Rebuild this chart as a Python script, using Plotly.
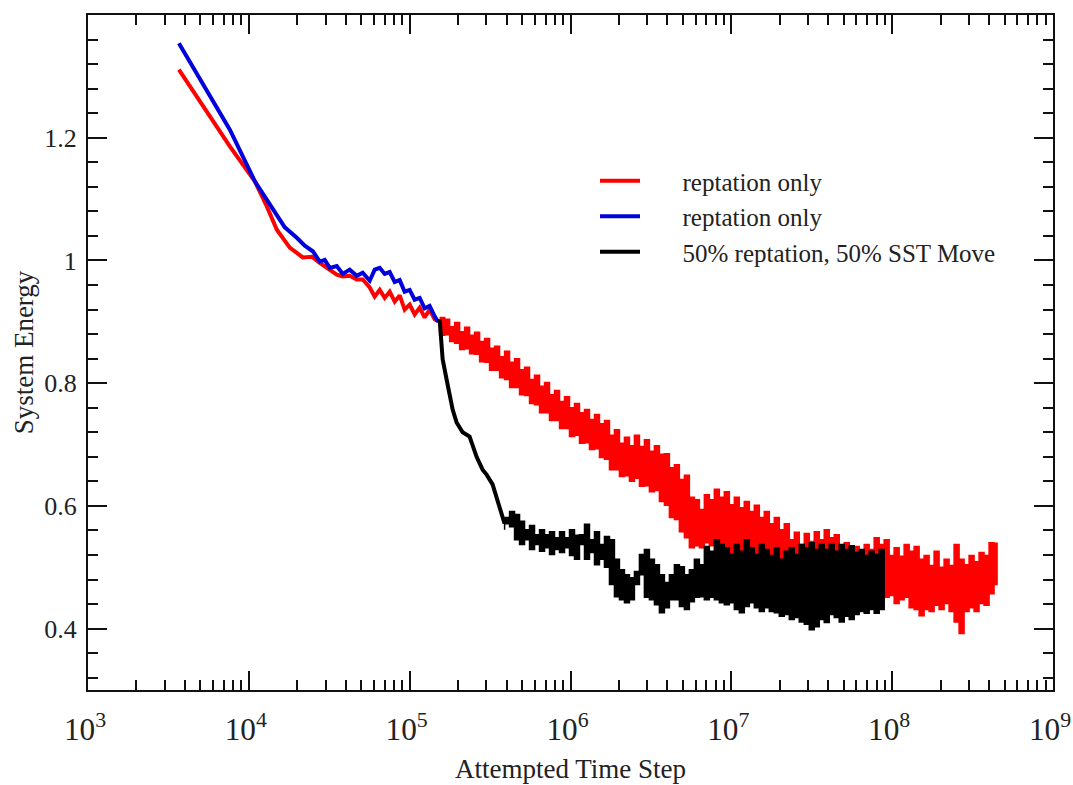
import plotly.graph_objects as go

# ---------------- data ----------------
# smooth early part of the red run
red_steps_early = [3.674e3, 5.33e3, 7.62e3, 1.090e4, 1.294e4, 1.493e4, 1.797e4, 2.164e4, 2.462e4, 2.761e4,
                   3.186e4, 3.521e4, 3.836e4, 4.240e4, 4.687e4, 5.106e4, 5.644e4, 6.062e4, 6.511e4, 6.994e4,
                   7.513e4, 8.070e4, 8.669e4, 9.310e4, 1.0e5, 1.074e5, 1.154e5, 1.239e5, 1.331e5, 1.430e5,
                   1.536e5]
red_energy_early = [1.311, 1.247, 1.186, 1.129, 1.088, 1.050, 1.021, 1.005, 1.006, 0.996,
                    0.985, 0.977, 0.974, 0.975, 0.969, 0.969, 0.956, 0.941, 0.952, 0.939,
                    0.949, 0.933, 0.943, 0.920, 0.928, 0.912, 0.923, 0.907, 0.920, 0.904,
                    0.900]

# noisy part of the red run: per time step, the upper and lower edge of the fluctuation band
red_steps_noisy = [1.536e5, 1.650e5, 1.772e5, 1.903e5, 2.044e5, 2.196e5, 2.358e5, 2.533e5, 2.721e5, 2.923e5,
                   3.139e5, 3.373e5, 3.622e5, 3.892e5, 4.179e5, 4.489e5, 4.822e5, 5.179e5, 5.563e5, 5.975e5,
                   6.419e5, 6.894e5, 7.405e5, 7.955e5, 8.545e5, 9.178e5, 9.858e5, 1.059e6, 1.137e6, 1.222e6,
                   1.312e6, 1.410e6, 1.514e6, 1.626e6, 1.747e6, 1.876e6, 2.015e6, 2.165e6, 2.325e6, 2.497e6,
                   2.683e6, 2.881e6, 3.095e6, 3.325e6, 3.571e6, 3.836e6, 4.120e6, 4.426e6, 4.753e6, 5.106e6,
                   5.484e6, 5.891e6, 6.327e6, 6.796e6, 7.300e6, 7.841e6, 8.423e6, 9.047e6, 9.718e6, 1.044e7,
                   1.121e7, 1.204e7, 1.294e7, 1.390e7, 1.493e7, 1.603e7, 1.722e7, 1.850e7, 1.987e7, 2.134e7,
                   2.293e7, 2.463e7, 2.645e7, 2.841e7, 3.052e7, 3.278e7, 3.521e7, 3.782e7, 4.062e7, 4.364e7,
                   4.687e7, 5.034e7, 5.407e7, 5.808e7, 6.238e7, 6.701e7, 7.197e7, 7.731e7, 8.304e7, 8.919e7,
                   9.580e7, 1.029e8, 1.105e8, 1.187e8, 1.275e8, 1.370e8, 1.471e8, 1.580e8, 1.697e8, 1.823e8,
                   1.958e8, 2.104e8, 2.259e8, 2.427e8, 2.607e8, 2.800e8, 3.008e8, 3.231e8, 3.470e8, 3.727e8,
                   4.004e8, 4.300e8, 4.490e8]
red_energy_high = [0.907, 0.904, 0.892, 0.899, 0.884, 0.891, 0.878, 0.883, 0.868, 0.873,
                   0.857, 0.860, 0.843, 0.852, 0.834, 0.840, 0.822, 0.826, 0.806, 0.813,
                   0.795, 0.801, 0.781, 0.788, 0.770, 0.778, 0.760, 0.767, 0.752, 0.757,
                   0.741, 0.749, 0.734, 0.739, 0.715, 0.724, 0.702, 0.712, 0.698, 0.715,
                   0.697, 0.708, 0.689, 0.698, 0.684, 0.685, 0.662, 0.667, 0.643, 0.650,
                   0.614, 0.610, 0.594, 0.618, 0.610, 0.627, 0.614, 0.623, 0.602, 0.614,
                   0.597, 0.607, 0.591, 0.601, 0.581, 0.591, 0.571, 0.581, 0.561, 0.571,
                   0.545, 0.557, 0.537, 0.555, 0.542, 0.558, 0.545, 0.561, 0.548, 0.553,
                   0.532, 0.540, 0.524, 0.534, 0.524, 0.537, 0.529, 0.548, 0.537, 0.545,
                   0.519, 0.532, 0.518, 0.537, 0.526, 0.534, 0.513, 0.519, 0.503, 0.526,
                   0.500, 0.513, 0.503, 0.537, 0.513, 0.504, 0.519, 0.509, 0.524, 0.519,
                   0.540, 0.539, 0.535]
red_energy_low = [0.894, 0.878, 0.879, 0.868, 0.865, 0.855, 0.856, 0.848, 0.847, 0.835,
                  0.834, 0.821, 0.821, 0.809, 0.806, 0.793, 0.793, 0.781, 0.780, 0.767,
                  0.765, 0.752, 0.752, 0.739, 0.739, 0.726, 0.726, 0.713, 0.715, 0.702,
                  0.703, 0.692, 0.693, 0.679, 0.676, 0.659, 0.659, 0.648, 0.649, 0.640,
                  0.645, 0.632, 0.633, 0.623, 0.625, 0.607, 0.601, 0.581, 0.578, 0.558,
                  0.548, 0.532, 0.535, 0.532, 0.540, 0.535, 0.540, 0.529, 0.532, 0.522,
                  0.527, 0.517, 0.522, 0.512, 0.516, 0.504, 0.508, 0.498, 0.500, 0.490,
                  0.491, 0.480, 0.483, 0.477, 0.482, 0.473, 0.480, 0.472, 0.477, 0.467,
                  0.472, 0.460, 0.464, 0.454, 0.460, 0.451, 0.457, 0.447, 0.454, 0.444,
                  0.451, 0.454, 0.441, 0.447, 0.451, 0.434, 0.431, 0.421, 0.431, 0.428,
                  0.438, 0.431, 0.441, 0.428, 0.411, 0.392, 0.428, 0.434, 0.428, 0.441,
                  0.438, 0.457, 0.472]

blue_steps = [3.674e3, 5.33e3, 7.62e3, 1.090e4, 1.409e4, 1.674e4, 1.987e4, 2.228e4, 2.498e4, 2.761e4,
              2.965e4, 3.186e4, 3.521e4, 3.836e4, 4.240e4, 4.687e4, 5.106e4, 5.644e4, 6.062e4, 6.511e4,
              6.994e4, 7.513e4, 8.070e4, 8.669e4, 9.310e4, 1.0e5, 1.074e5, 1.154e5, 1.239e5, 1.331e5,
              1.430e5, 1.500e5]
blue_energy = [1.354, 1.282, 1.213, 1.129, 1.083, 1.054, 1.037, 1.024, 1.015, 0.998,
               1.001, 0.988, 0.991, 0.978, 0.985, 0.975, 0.980, 0.967, 0.985, 0.988,
               0.978, 0.981, 0.965, 0.968, 0.949, 0.952, 0.936, 0.939, 0.922, 0.926,
               0.909, 0.900]

# black run: steep early drop, then a fluctuation band (upper / lower edges)
black_steps_early = [1.536e5, 1.603e5, 1.697e5, 1.772e5, 1.850e5, 1.958e5, 2.134e5, 2.358e5, 2.607e5,
                     2.841e5, 3.008e5, 3.278e5, 3.470e5, 3.622e5, 3.892e5]
black_energy_early = [0.904, 0.839, 0.806, 0.777, 0.757, 0.736, 0.720, 0.713, 0.680,
                      0.659, 0.651, 0.635, 0.614, 0.594, 0.571]
black_steps_noisy = [3.892e5, 4.179e5, 4.489e5, 4.822e5, 5.179e5, 5.563e5, 5.975e5,
                     6.419e5, 6.894e5, 7.405e5, 7.955e5, 8.545e5, 9.178e5, 9.858e5, 1.059e6, 1.137e6, 1.222e6,
                     1.312e6, 1.410e6, 1.514e6, 1.626e6, 1.747e6, 1.876e6, 2.015e6, 2.165e6, 2.325e6, 2.497e6,
                     2.683e6, 2.881e6, 3.095e6, 3.325e6, 3.571e6, 3.836e6, 4.120e6, 4.426e6, 4.753e6, 5.106e6,
                     5.484e6, 5.891e6, 6.327e6, 6.796e6, 7.300e6, 7.841e6, 8.423e6, 9.047e6, 9.718e6, 1.044e7,
                     1.121e7, 1.204e7, 1.294e7, 1.390e7, 1.493e7, 1.603e7, 1.722e7, 1.850e7, 1.987e7, 2.134e7,
                     2.293e7, 2.463e7, 2.645e7, 2.841e7, 3.052e7, 3.278e7, 3.521e7, 3.782e7, 4.062e7, 4.364e7,
                     4.687e7, 5.034e7, 5.407e7, 5.808e7, 6.238e7, 6.701e7, 7.197e7, 7.731e7, 8.304e7, 8.919e7]
black_energy_high = [0.581, 0.591, 0.586, 0.575, 0.561, 0.568, 0.553,
                     0.561, 0.553, 0.558, 0.548, 0.558, 0.548, 0.561, 0.552, 0.553, 0.570,
                     0.545, 0.558, 0.537, 0.550, 0.545, 0.513, 0.496, 0.488, 0.483, 0.493,
                     0.521, 0.529, 0.513, 0.504, 0.488, 0.475, 0.488, 0.504, 0.501, 0.488,
                     0.496, 0.513, 0.504, 0.534, 0.526, 0.545, 0.537, 0.532, 0.521, 0.537,
                     0.526, 0.545, 0.532, 0.521, 0.537, 0.529, 0.519, 0.532, 0.513, 0.526,
                     0.532, 0.521, 0.537, 0.532, 0.540, 0.529, 0.537, 0.529, 0.537, 0.526,
                     0.537, 0.529, 0.535, 0.524, 0.529, 0.519, 0.526, 0.521, 0.529, 0.524]
black_energy_low = [0.561, 0.571, 0.566, 0.545, 0.537, 0.545, 0.529,
                    0.537, 0.526, 0.532, 0.521, 0.529, 0.524, 0.532, 0.519, 0.513, 0.537,
                    0.513, 0.524, 0.504, 0.513, 0.500, 0.472, 0.452, 0.447, 0.442, 0.447,
                    0.472, 0.488, 0.451, 0.447, 0.439, 0.426, 0.434, 0.447, 0.447, 0.436,
                    0.431, 0.444, 0.451, 0.452, 0.447, 0.451, 0.447, 0.442, 0.439, 0.442,
                    0.431, 0.426, 0.436, 0.442, 0.434, 0.428, 0.434, 0.428, 0.426, 0.420,
                    0.423, 0.415, 0.418, 0.411, 0.407, 0.398, 0.403, 0.415, 0.410, 0.423,
                    0.418, 0.411, 0.420, 0.415, 0.423, 0.428, 0.425, 0.431, 0.425, 0.431]

series_names = ["reptation only", "reptation only", "50% reptation, 50% SST Move"]
series_colors = ["#ff0000", "#0000dd", "#000000"]

y_tick_values = [0.4, 0.6, 0.8, 1.0, 1.2]
y_tick_labels = ["0.4", "0.6", "0.8", "1", "1.2"]

x_title = "Attempted Time Step"
y_title = "System Energy"

FONT = "Liberation Serif, Times New Roman, serif"
NBSP = "\u00a0"

fig = go.Figure()


def add_band(steps, high, low, color, group):
    """Fluctuation band: blocky region between the upper and lower edges read at each time step."""
    fig.add_trace(go.Scatter(
        x=list(steps) + list(steps)[::-1],
        y=list(high) + list(low)[::-1],
        mode="lines", line=dict(color=color, width=1.5, shape="hv"),
        fill="toself", fillcolor=color,
        legendgroup=group, showlegend=False, hoverinfo="skip",
    ))


def add_line(steps, energy, idx):
    fig.add_trace(go.Scatter(
        x=steps, y=energy, mode="lines", name=NBSP * 6 + series_names[idx],
        line=dict(color=series_colors[idx], width=4),
        legendgroup=f"g{idx}",
    ))


add_band(red_steps_noisy, red_energy_high, red_energy_low, series_colors[0], "g0")
add_line(red_steps_early, red_energy_early, 0)
add_line(blue_steps, blue_energy, 1)
add_band(black_steps_noisy, black_energy_high, black_energy_low, series_colors[2], "g2")
add_line(black_steps_early, black_energy_early, 2)

axis_common = dict(
    showline=True, linecolor="#111", linewidth=2, mirror="allticks",
    ticks="inside", ticklen=19, tickwidth=1.5, tickcolor="#111",
    showgrid=False, zeroline=False, automargin=False,
    ticklabeloverflow="allow",
    title_font=dict(family=FONT, size=27, color="#222"),
)

fig.update_xaxes(
    type="log", range=[3, 9], dtick=1, exponentformat="power",
    minor=dict(ticks="inside", ticklen=10, tickwidth=1.5, tickcolor="#111", dtick="D1", showgrid=False),
    title_text=x_title, title_standoff=13, ticklabelstandoff=12, ticklabelshift=-3,
    tickfont=dict(family=FONT, size=25, color="#222"),
    **axis_common,
)
fig.update_yaxes(
    range=[0.3, 1.4], tickmode="array", tickvals=y_tick_values, ticktext=y_tick_labels,
    minor=dict(ticks="inside", ticklen=10, tickwidth=1.5, tickcolor="#111",
               tickmode="linear", tick0=0, dtick=0.04, showgrid=False),
    title_text=y_title, title_standoff=3, ticklabelstandoff=4,
    tickfont=dict(family=FONT, size=26, color="#222"),
    **axis_common,
)

fig.update_layout(
    width=1073, height=785,
    margin=dict(l=88, r=20, t=15, b=95),
    paper_bgcolor="white", plot_bgcolor="white",
    font=dict(family=FONT, color="#222"),
    showlegend=True,
    legend=dict(
        x=0.5254, y=0.788, xanchor="left", yanchor="top",
        font=dict(family=FONT, size=25, color="#222"),
        bgcolor="rgba(0,0,0,0)", borderwidth=0,
        traceorder="grouped", tracegroupgap=0, itemwidth=40,
    ),
)

fig.write_html("out.html")
